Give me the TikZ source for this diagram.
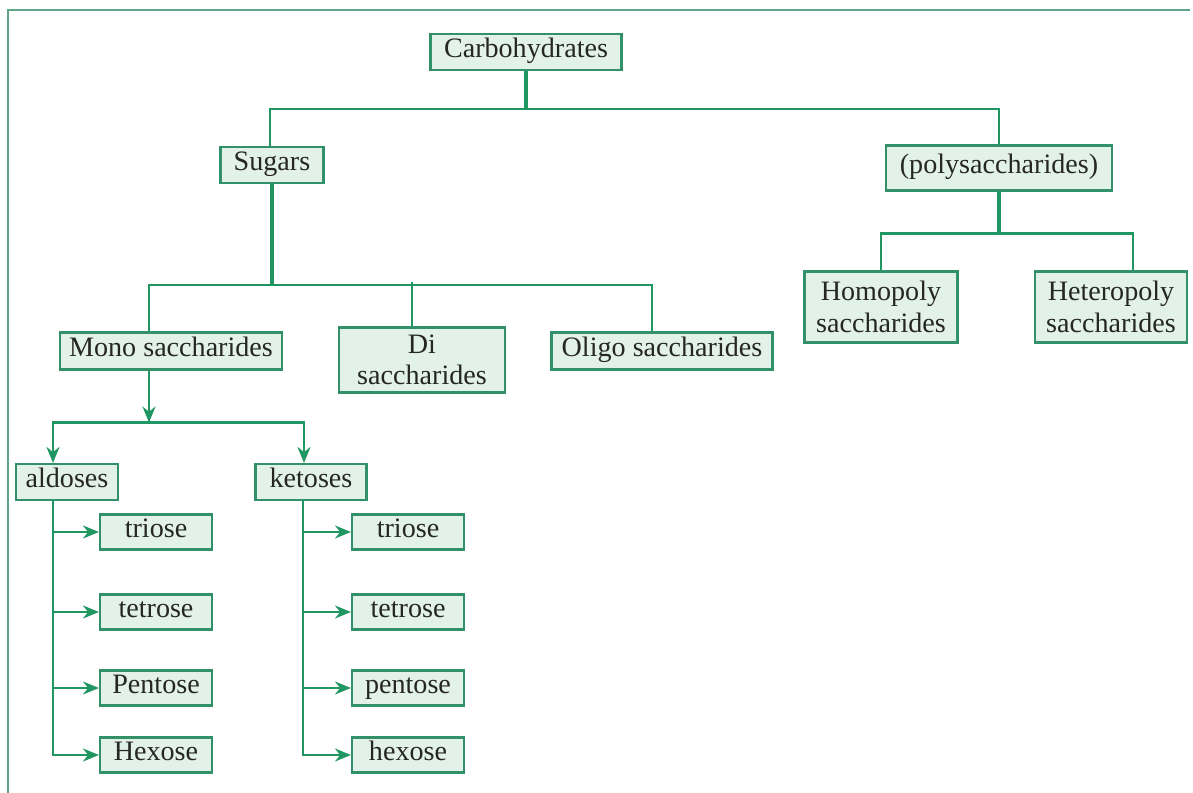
\documentclass[tikz,border=0pt]{standalone}
\usepackage{fontspec}
\setmainfont{Liberation Serif}
\usetikzlibrary{arrows.meta,positioning}

\definecolor{treegreen}{RGB}{32,150,98}
\definecolor{boxgreen}{RGB}{50,145,105}
\definecolor{boxfill}{RGB}{226,242,232}
\definecolor{framegreen}{RGB}{95,165,135}

\begin{document}
\begin{tikzpicture}[x=0.02cm, y=-0.02cm,
  cat/.style={rectangle, draw=boxgreen, fill=boxfill, line width=1.2pt, inner sep=1pt,
              font=\fontsize{16}{18}\selectfont, text=black!85, align=center},
  oneline/.style={cat, text height=0.75em, text depth=0.1em},
  small/.style={oneline, minimum width=2.24cm, minimum height=0.7cm},
  link/.style={draw=treegreen, line width=1.3pt},
  stem/.style={link, line width=2.4pt},
  arrow/.style={link, -{Stealth[length=3.2mm, width=2.6mm]}},
]
\useasboundingbox (0,0) rectangle (1193,793);

% frame
\draw[framegreen, line width=1.6pt] (1190,10) -- (8,10) -- (8,793);

% top levels
\node[oneline, minimum width=3.82cm, minimum height=0.72cm] (carb) at (526,52) {Carbohydrates};
\node[oneline, minimum width=2.06cm, minimum height=0.72cm] (sugars) at (272,165) {Sugars};
\node[oneline, minimum width=4.52cm, minimum height=0.9cm] (poly) at (999,168) {(polysaccharides)};
\node[cat, minimum width=3.06cm, minimum height=1.42cm] (homo) at (881,307) {Homopoly\\saccharides};
\node[cat, minimum width=3.04cm, minimum height=1.42cm] (hetero) at (1111,307) {Heteropoly\\saccharides};

% sugars
\node[oneline, minimum width=4.44cm, minimum height=0.74cm] (mono) at (171,351) {Mono saccharides};
\node[cat, minimum width=3.32cm, minimum height=1.3cm] (di) at (422,360) {Di\\saccharides};
\node[oneline, minimum width=4.42cm, minimum height=0.74cm] (oligo) at (662,351) {Oligo saccharides};

\node[oneline, minimum width=2.04cm, minimum height=0.72cm] (ald) at (67,482) {aldoses};
\node[oneline, minimum width=2.22cm, minimum height=0.72cm] (ket) at (311,482) {ketoses};

\node[small] (atri) at (156,532) {triose};
\node[small] (atet) at (156,612) {tetrose};
\node[small] (apen) at (156,688) {Pentose};
\node[small] (ahex) at (156,755) {Hexose};

\node[small] (ktri) at (408,532) {triose};
\node[small] (ktet) at (408,612) {tetrose};
\node[small] (kpen) at (408,688) {pentose};
\node[small] (khex) at (408,755) {hexose};

% connectors
\draw[stem] (carb.south) -- ++(0,38) coordinate (j1);
\draw[link] ([xshift=-0.04cm]sugars.north) |- (j1) -| (poly.north);

\draw[stem] (poly.south) -- ++(0,42) coordinate (j3);
\draw[link] (homo.north) |- (j3) -| ([xshift=0.44cm]hetero.north);

\draw[stem] (sugars.south) -- ++(0,101) coordinate (j2);
\draw[link] ([xshift=-0.44cm]mono.north) |- (j2) -| ([xshift=-0.2cm]oligo.north);
\draw[link] ([xshift=-0.2cm]di.north) -- ++(0,-44);

\draw[arrow] ([xshift=-0.44cm]mono.south) -- ++(0,52) coordinate (j4);
\draw[arrow] (j4) -| ([xshift=-0.28cm]ald.north);
\draw[arrow] (j4) -| ([xshift=-0.14cm]ket.north);

\foreach \t in {atri,atet,apen,ahex}
  \draw[arrow] ([xshift=-0.28cm]ald.south) |- (\t.west);
\foreach \t in {ktri,ktet,kpen,khex}
  \draw[arrow] ([xshift=-0.16cm]ket.south) |- (\t.west);

\end{tikzpicture}
\end{document}
